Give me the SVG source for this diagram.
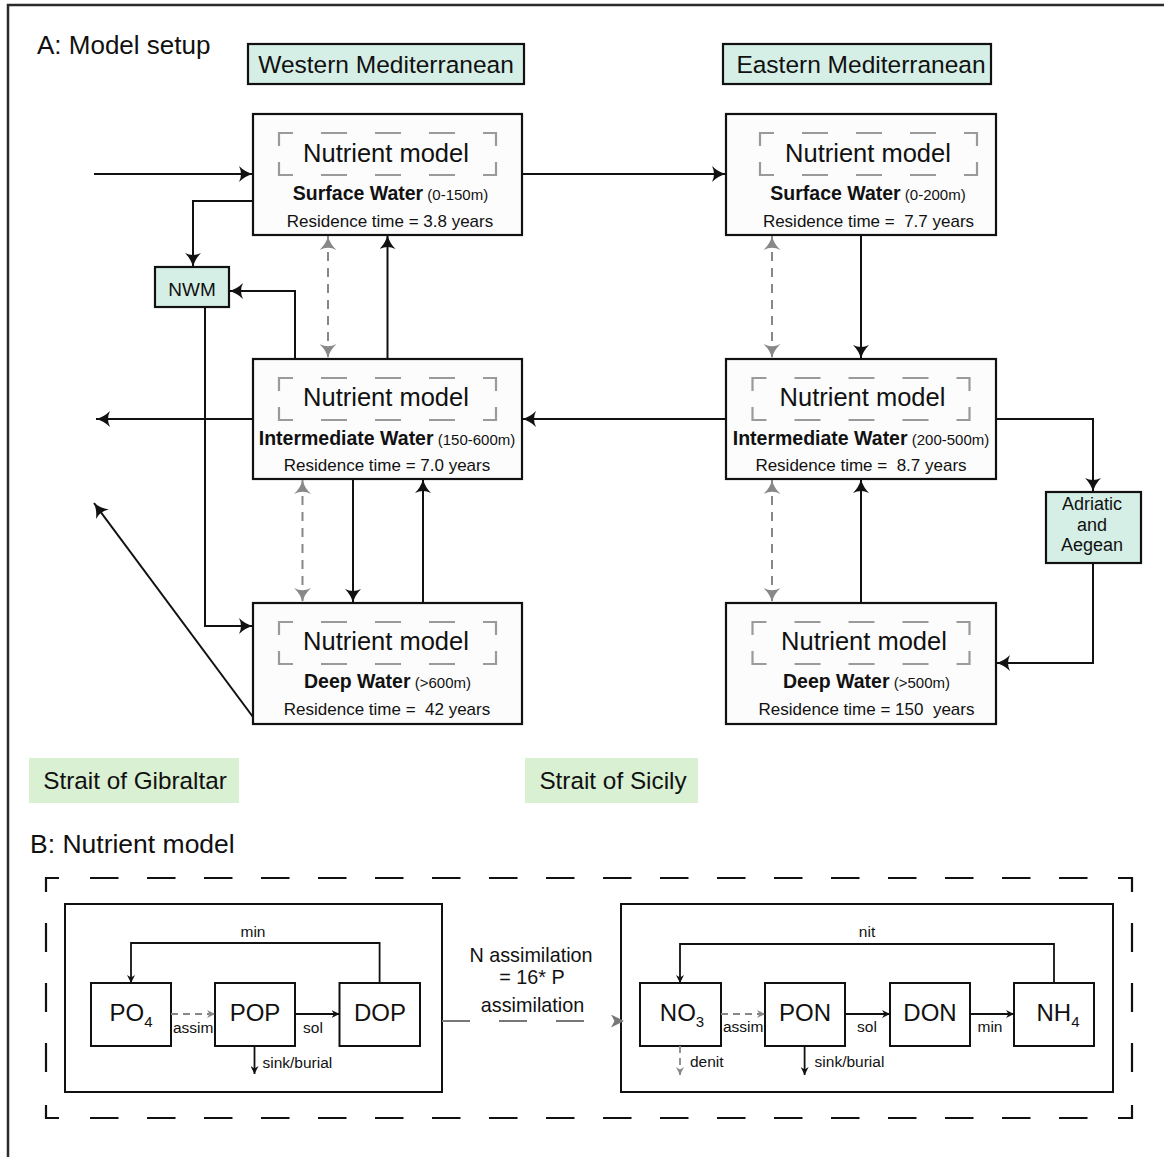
<svg xmlns="http://www.w3.org/2000/svg" width="1164" height="1157" viewBox="0 0 1164 1157">
<style>
text{font-family:"Liberation Sans",Arial,sans-serif;fill:#111}
.frame{fill:none;stroke:#2b2b2b;stroke-width:2.5}
.node{fill:#fcfcfc;stroke:#111;stroke-width:2.2}
.region{fill:#d6efe6;stroke:#111;stroke-width:2.2}
.strait{fill:#d9f0d2;stroke:none}
.nm{fill:none;stroke:#9a9a9a;stroke-width:2.2;stroke-dasharray:27 28 26 28 26 28 26 28 26 16 26 28 26 28 26 28 26 28 27 16}
.nmt{font-size:25.5px;text-anchor:middle}
.wl{font-size:15px;text-anchor:middle}
.wl .b{font-weight:bold;font-size:19.5px}
.rt{font-size:17px;text-anchor:middle}
.c{fill:none;stroke:#111;stroke-width:2}
.g{fill:none;stroke:#888;stroke-width:2;stroke-dasharray:9 7}
.box{fill:#fff;stroke:#111;stroke-width:2}
.od{fill:none;stroke:#111;stroke-width:2.2}
.sp{font-size:24px;text-anchor:middle}
.sm{font-size:15.5px}
.cs{fill:none;stroke:#111;stroke-width:1.8}
.gs{fill:none;stroke:#888;stroke-width:1.8;stroke-dasharray:7 5}
</style>
<defs>
<marker id="ab" viewBox="0 0 14 16" refX="14" refY="8" markerWidth="14" markerHeight="16" markerUnits="userSpaceOnUse" orient="auto-start-reverse">
<path d="M0,0 Q6,6 14,8 Q6,10 0,16 Q4,8 0,0 Z" fill="#111"/>
</marker>
<marker id="ag" viewBox="0 0 14 17" refX="14" refY="8.5" markerWidth="14" markerHeight="17" markerUnits="userSpaceOnUse" orient="auto-start-reverse">
<path d="M0,0 Q6,6.5 14,8.5 Q6,10.5 0,17 Q4.5,8.5 0,0 Z" fill="#888"/>
</marker>
<marker id="as" viewBox="0 0 8 8" refX="8" refY="4" markerWidth="8" markerHeight="8" markerUnits="userSpaceOnUse" orient="auto">
<path d="M0,0 L8,4 L0,8 L2.5,4 Z" fill="#111"/>
</marker>
<marker id="asg" viewBox="0 0 8 8" refX="8" refY="4" markerWidth="8" markerHeight="8" markerUnits="userSpaceOnUse" orient="auto">
<path d="M0,0 L8,4 L0,8 L2.5,4 Z" fill="#888"/>
</marker>
<marker id="agl" viewBox="0 0 13 13" refX="13" refY="6.5" markerWidth="13" markerHeight="13" markerUnits="userSpaceOnUse" orient="auto">
<path d="M0,0 L13,6.5 L0,13 L3.5,6.5 Z" fill="#777"/>
</marker>
</defs>
<rect width="1164" height="1157" fill="#fff"/>
<rect class="frame" x="8" y="5" width="1170" height="1170"/>

<g id="titles">
<text x="37" y="54" font-size="26">A: Model setup</text>
<text x="30" y="853" font-size="26.5">B: Nutrient model</text>
</g>

<g id="western-med">
<rect class="region" x="248" y="44" width="276" height="40"/>
<text x="386" y="73" font-size="24.5" text-anchor="middle">Western Mediterranean</text>
</g>
<g id="eastern-med">
<rect class="region" x="723" y="44" width="268" height="40"/>
<text x="861" y="73" font-size="24.5" text-anchor="middle">Eastern Mediterranean</text>
</g>

<g id="w-surface">
<rect class="node" x="253" y="114" width="269" height="121"/>
<path class="nm" d="M279,146 V133 H496 V175 H279 Z"/>
<text class="nmt" x="386" y="162">Nutrient model</text>
<text class="wl" x="390.5" y="200"><tspan class="b">Surface Water</tspan> (0-150m)</text>
<text class="rt" x="390" y="227">Residence time = 3.8 years</text>
</g>
<g id="w-intermediate">
<rect class="node" x="253" y="359" width="269" height="120"/>
<path class="nm" d="M279,391 V378 H496 V420 H279 Z"/>
<text class="nmt" x="386" y="406">Nutrient model</text>
<text class="wl" x="387" y="445"><tspan class="b">Intermediate Water</tspan> (150-600m)</text>
<text class="rt" x="387" y="471">Residence time = 7.0 years</text>
</g>
<g id="w-deep">
<rect class="node" x="253" y="603" width="269" height="121"/>
<path class="nm" d="M279,635 V622 H496 V664 H279 Z"/>
<text class="nmt" x="386" y="650">Nutrient model</text>
<text class="wl" x="387.5" y="688"><tspan class="b">Deep Water</tspan> (&gt;600m)</text>
<text class="rt" x="387" y="715" xml:space="preserve">Residence time =  42 years</text>
</g>

<g id="e-surface">
<rect class="node" x="726" y="114" width="270" height="121"/>
<path class="nm" d="M760,146 V133 H977 V175 H760 Z"/>
<text class="nmt" x="868" y="162">Nutrient model</text>
<text class="wl" x="868" y="200"><tspan class="b">Surface Water</tspan> (0-200m)</text>
<text class="rt" x="868.5" y="227" xml:space="preserve">Residence time =  7.7 years</text>
</g>
<g id="e-intermediate">
<rect class="node" x="726" y="359" width="270" height="120"/>
<path class="nm" d="M752.5,391 V378 H969.5 V420 H752.5 Z"/>
<text class="nmt" x="862.5" y="406">Nutrient model</text>
<text class="wl" x="861" y="445"><tspan class="b">Intermediate Water</tspan> (200-500m)</text>
<text class="rt" x="861" y="471" xml:space="preserve">Residence time =  8.7 years</text>
</g>
<g id="e-deep">
<rect class="node" x="726" y="603" width="270" height="121"/>
<path class="nm" d="M752.5,635 V622 H969.5 V664 H752.5 Z"/>
<text class="nmt" x="864" y="650">Nutrient model</text>
<text class="wl" x="866.5" y="688"><tspan class="b">Deep Water</tspan> (&gt;500m)</text>
<text class="rt" x="866.5" y="715" xml:space="preserve">Residence time = 150  years</text>
</g>

<g id="nwm">
<rect class="region" x="155" y="267" width="74" height="40"/>
<text x="192" y="296" font-size="19" text-anchor="middle">NWM</text>
</g>
<g id="adriatic">
<rect class="region" x="1046" y="492" width="95" height="71"/>
<text x="1092" y="510" font-size="18" text-anchor="middle">Adriatic</text>
<text x="1092" y="530.5" font-size="18" text-anchor="middle">and</text>
<text x="1092" y="551" font-size="18" text-anchor="middle">Aegean</text>
</g>

<g id="gibraltar">
<rect class="strait" x="29" y="758" width="210" height="45"/>
<text x="135" y="789" font-size="24.3" text-anchor="middle">Strait of Gibraltar</text>
</g>
<g id="sicily">
<rect class="strait" x="525" y="758" width="173" height="45"/>
<text x="613" y="789" font-size="24.3" text-anchor="middle">Strait of Sicily</text>
</g>

<g id="connectors-a">
<path class="c" d="M94,174 H253" marker-end="url(#ab)"/>
<path class="c" d="M522,174 H726" marker-end="url(#ab)"/>
<path class="c" d="M253,201 H193 V267" marker-end="url(#ab)"/>
<path class="c" d="M295,359 V291 H229" marker-end="url(#ab)"/>
<path class="c" d="M205,307 V626 H253" marker-end="url(#ab)"/>
<path class="c" d="M253,419 H96" marker-end="url(#ab)"/>
<path class="c" d="M253,717 L94,503" marker-end="url(#ab)"/>
<path class="c" d="M387.5,359 V235" marker-end="url(#ab)"/>
<path class="c" d="M353,479 V603" marker-end="url(#ab)"/>
<path class="c" d="M423,603 V479" marker-end="url(#ab)"/>
<path class="c" d="M726,419 H522" marker-end="url(#ab)"/>
<path class="c" d="M861,235 V359" marker-end="url(#ab)"/>
<path class="c" d="M861,603 V479" marker-end="url(#ab)"/>
<path class="c" d="M996,419 H1093 V492" marker-end="url(#ab)"/>
<path class="c" d="M1093,563 V663 H996" marker-end="url(#ab)"/>
<path class="g" d="M328,236 V358" marker-start="url(#ag)" marker-end="url(#ag)"/>
<path class="g" d="M302.5,480 V602" marker-start="url(#ag)" marker-end="url(#ag)"/>
<path class="g" d="M772,236 V358" marker-start="url(#ag)" marker-end="url(#ag)"/>
<path class="g" d="M772,480 V602" marker-start="url(#ag)" marker-end="url(#ag)"/>
</g>

<g id="nutrient-frame">
<path class="od" d="M46,892 V878 H59 M1118,878 H1132 V892 M1132,1105 V1118 H1118 M59,1118 H46 V1105"/>
<path class="od" d="M90,878 H1087.5 M90,1118 H1087.5" stroke-dasharray="28.5 28.5"/>
<path class="od" d="M46,923 V1073 M1132,923 V1073" stroke-dasharray="29 31"/>
</g>

<g id="p-model">
<rect class="box" x="65" y="904" width="377" height="188"/>
</g>
<g id="po4">
<rect class="box" x="91" y="983" width="80" height="63"/>
<text class="sp" x="131" y="1021">PO<tspan font-size="15" dy="6">4</tspan></text>
</g>
<g id="pop">
<rect class="box" x="215" y="983" width="80" height="63"/>
<text class="sp" x="255" y="1021">POP</text>
</g>
<g id="dop">
<rect class="box" x="339.5" y="983" width="80.5" height="63"/>
<text class="sp" x="380" y="1021">DOP</text>
</g>

<g id="n-model">
<rect class="box" x="621" y="904" width="492" height="188"/>
</g>
<g id="no3">
<rect class="box" x="640" y="983" width="81" height="63"/>
<text class="sp" x="682" y="1021">NO<tspan font-size="15" dy="6">3</tspan></text>
</g>
<g id="pon">
<rect class="box" x="765" y="983" width="80" height="63"/>
<text class="sp" x="805" y="1021">PON</text>
</g>
<g id="don">
<rect class="box" x="890" y="983" width="80" height="63"/>
<text class="sp" x="930" y="1021">DON</text>
</g>
<g id="nh4">
<rect class="box" x="1014" y="983" width="80" height="63"/>
<text class="sp" x="1058" y="1021">NH<tspan font-size="15" dy="6">4</tspan></text>
</g>

<g id="relation">
<text font-size="19.8" text-anchor="middle"><tspan x="531" y="962">N assimilation</tspan><tspan x="532" y="984">= 16* P</tspan><tspan x="532.5" y="1012">assimilation</tspan></text>
</g>

<g id="connectors-b">
<path class="cs" d="M379.6,983 V943 H131 V983" marker-end="url(#as)"/>
<path class="gs" d="M171,1014 H215" marker-end="url(#asg)"/>
<path class="cs" d="M295,1014 H339.5" marker-end="url(#as)"/>
<path class="cs" d="M254.5,1046 V1074" marker-end="url(#as)"/>
<path class="cs" d="M1054,983 V944 H680 V983" marker-end="url(#as)"/>
<path class="gs" d="M721,1014 H765" marker-end="url(#asg)"/>
<path class="cs" d="M845,1014 H890" marker-end="url(#as)"/>
<path class="cs" d="M970,1014 H1014" marker-end="url(#as)"/>
<path class="gs" d="M680,1046 V1075" marker-end="url(#asg)"/>
<path class="cs" d="M804.6,1046 V1075" marker-end="url(#as)"/>
<path d="M442,1021 H612" fill="none" stroke="#777" stroke-width="2" stroke-dasharray="28 29"/>
<path d="M611,1021 H624" fill="none" stroke="none" marker-end="url(#agl)"/>
<text class="sm" x="253" y="937" text-anchor="middle">min</text>
<text class="sm" x="173" y="1033">assim</text>
<text class="sm" x="313" y="1033" text-anchor="middle">sol</text>
<text class="sm" x="262.5" y="1068">sink/burial</text>
<text class="sm" x="867" y="937" text-anchor="middle">nit</text>
<text class="sm" x="723" y="1032">assim</text>
<text class="sm" x="867" y="1032" text-anchor="middle">sol</text>
<text class="sm" x="990" y="1032" text-anchor="middle">min</text>
<text class="sm" x="690" y="1067">denit</text>
<text class="sm" x="814.6" y="1067">sink/burial</text>
</g>
</svg>
